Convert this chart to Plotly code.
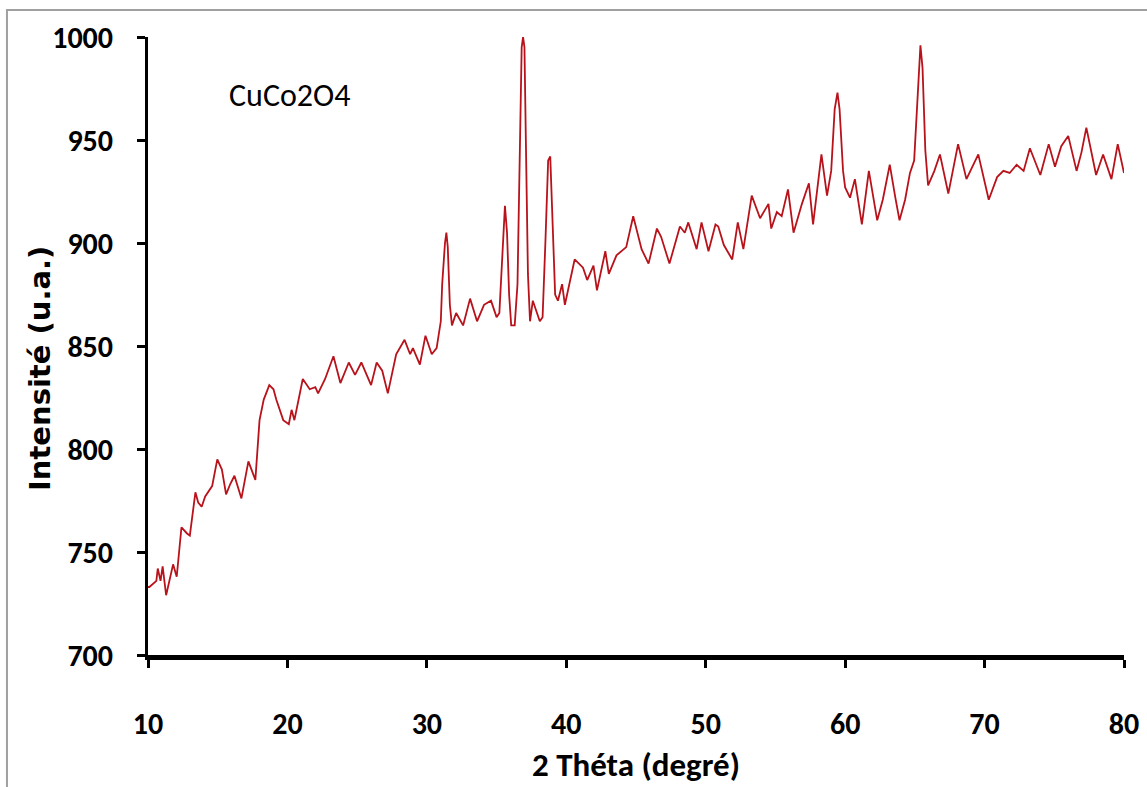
import plotly.graph_objects as go

# 2 Theta (degrees) and intensity (u.a.)
two_theta = [
    10.0, 10.1, 10.6, 10.7, 10.9, 11.05, 11.3, 11.8, 12.06, 12.4, 12.8, 13.0, 13.4, 13.6, 13.85,
    14.1, 14.6, 14.97, 15.3, 15.6, 15.9, 16.2, 16.7, 17.2, 17.7, 18.0, 18.3, 18.7, 19.0, 19.2,
    19.7, 20.1, 20.3, 20.5, 21.1, 21.6, 22.0, 22.2, 22.7, 23.3, 23.8, 24.4, 24.85, 25.3, 26.0,
    26.4, 26.8, 27.2, 27.8, 28.4, 28.8, 29.0, 29.5, 29.9, 30.35, 30.7, 31.0, 31.1, 31.3, 31.4,
    31.5, 31.65, 31.8, 32.1, 32.6, 33.1, 33.6, 34.1, 34.6, 35.0, 35.2, 35.4, 35.6, 35.75, 35.9,
    36.05, 36.3, 36.5, 36.65, 36.8, 36.9, 37.0, 37.1, 37.25, 37.4, 37.6, 38.1, 38.3, 38.5, 38.7,
    38.85, 39.0, 39.2, 39.4, 39.7, 39.9, 40.6, 41.2, 41.5, 41.95, 42.2, 42.8, 43.05, 43.6, 44.3,
    44.8, 45.4, 45.9, 46.5, 46.8, 47.4, 48.15, 48.5, 48.75, 49.35, 49.7, 50.2, 50.7, 50.9, 51.3,
    51.9, 52.3, 52.7, 53.3, 53.9, 54.5, 54.7, 55.1, 55.45, 55.9, 56.3, 56.9, 57.4, 57.7, 58.3,
    58.7, 59.0, 59.25, 59.45, 59.6, 59.85, 60.0, 60.35, 60.7, 61.2, 61.7, 62.3, 62.7, 63.2, 63.6,
    63.9, 64.3, 64.65, 64.95, 65.2, 65.4, 65.55, 65.75, 65.95, 66.4, 66.8, 67.4, 68.1, 68.7, 69.55,
    70.3, 70.9, 71.35, 71.8, 72.3, 72.8, 73.25, 74.0, 74.6, 75.05, 75.5, 76.0, 76.6, 76.95, 77.3,
    78.0, 78.5, 79.1, 79.55, 80.0,
]
intensity = [
    733, 733, 736, 742, 736, 743, 729, 744, 738, 762, 759, 758, 779, 774, 772,
    777, 782, 795, 790, 778, 783, 787, 776, 794, 785, 814, 824, 831, 829, 824,
    814, 812, 819, 814, 834, 829, 830, 827, 834, 845, 832, 842, 836, 842, 831,
    842, 838, 827, 846, 853, 846, 849, 841, 855, 846, 849, 862, 880, 900, 905,
    898, 870, 860, 866, 860, 873, 862, 870, 872, 864, 866, 895, 918, 905, 875,
    860, 860, 880, 950, 995, 1000, 995, 950, 885, 862, 872, 862, 864, 900, 940,
    942, 915, 875, 872, 880, 870, 892, 888, 882, 889, 877, 896, 885, 894, 898,
    913, 897, 890, 907, 903, 890, 908, 905, 910, 897, 910, 896, 909, 908, 899,
    892, 910, 897, 923, 912, 919, 907, 915, 913, 926, 905, 919, 929, 909, 943,
    923, 935, 965, 973, 965, 935, 927, 922, 931, 909, 935, 911, 921, 938, 922,
    911, 921, 934, 940, 975, 996, 985, 945, 928, 935, 943, 924, 948, 931, 943,
    921, 932, 935, 934, 938, 935, 946, 933, 948, 937, 947, 952, 935, 944, 956,
    933, 943, 931, 948, 934,
]

x_ticks = [10, 20, 30, 40, 50, 60, 70, 80]
y_ticks = [700, 750, 800, 850, 900, 950, 1000]

narrow = "Carlito, Liberation Sans Narrow, Lato, sans-serif"

fig = go.Figure()
fig.add_trace(go.Scatter(
    x=two_theta, y=intensity, mode="lines",
    line=dict(color="#B8121B", width=1.8),
    showlegend=False, hoverinfo="x+y",
))

fig.update_layout(
    width=1147, height=787,
    margin=dict(l=148, r=23, t=37, b=132),
    paper_bgcolor="white", plot_bgcolor="white",
    xaxis=dict(
        range=[10, 80], tickvals=x_ticks, ticktext=[str(v) for v in x_ticks],
        showgrid=False, zeroline=False, automargin=False,
        showline=True, linecolor="black", linewidth=5,
        ticks="outside", ticklen=8, tickwidth=3, tickcolor="black",
        tickfont=dict(family=narrow, size=30, color="black", weight="bold"),
        ticklabelstandoff=30,
    ),
    yaxis=dict(
        range=[700, 1000], tickvals=y_ticks, ticktext=[str(v) for v in y_ticks],
        showgrid=False, zeroline=False, automargin=False,
        showline=True, linecolor="black", linewidth=3,
        ticks="outside", ticklen=8, tickwidth=3, tickcolor="black",
        tickfont=dict(family=narrow, size=30, color="black", weight="bold"),
        ticklabelstandoff=18,
    ),
    annotations=[
        dict(
            text="CuCo2O4", x=0.1445, y=0.905, xref="paper", yref="paper",
            showarrow=False, xanchor="center", yanchor="middle",
            font=dict(family=narrow, size=32, color="black"),
        ),
        dict(
            text="Intensité (u.a.)", x=-0.1107, y=0.4644, xref="paper", yref="paper",
            showarrow=False, xanchor="center", yanchor="middle", textangle=-90,
            font=dict(family="DejaVu Sans", size=29, color="black", weight="bold"),
        ),
        dict(
            text="2 Théta (degré)", x=0.5, y=-0.178, xref="paper", yref="paper",
            showarrow=False, xanchor="center", yanchor="middle",
            font=dict(family=narrow, size=33, color="black", weight="bold"),
        ),
    ],
    shapes=[dict(
        type="rect", xref="paper", yref="paper",
        x0=-0.1445, x1=1.03, y0=-0.25, y1=1.0437,
        line=dict(color="#A0A0A0", width=2), fillcolor="rgba(0,0,0,0)", layer="below",
    )],
)

fig.write_html("out.html")
